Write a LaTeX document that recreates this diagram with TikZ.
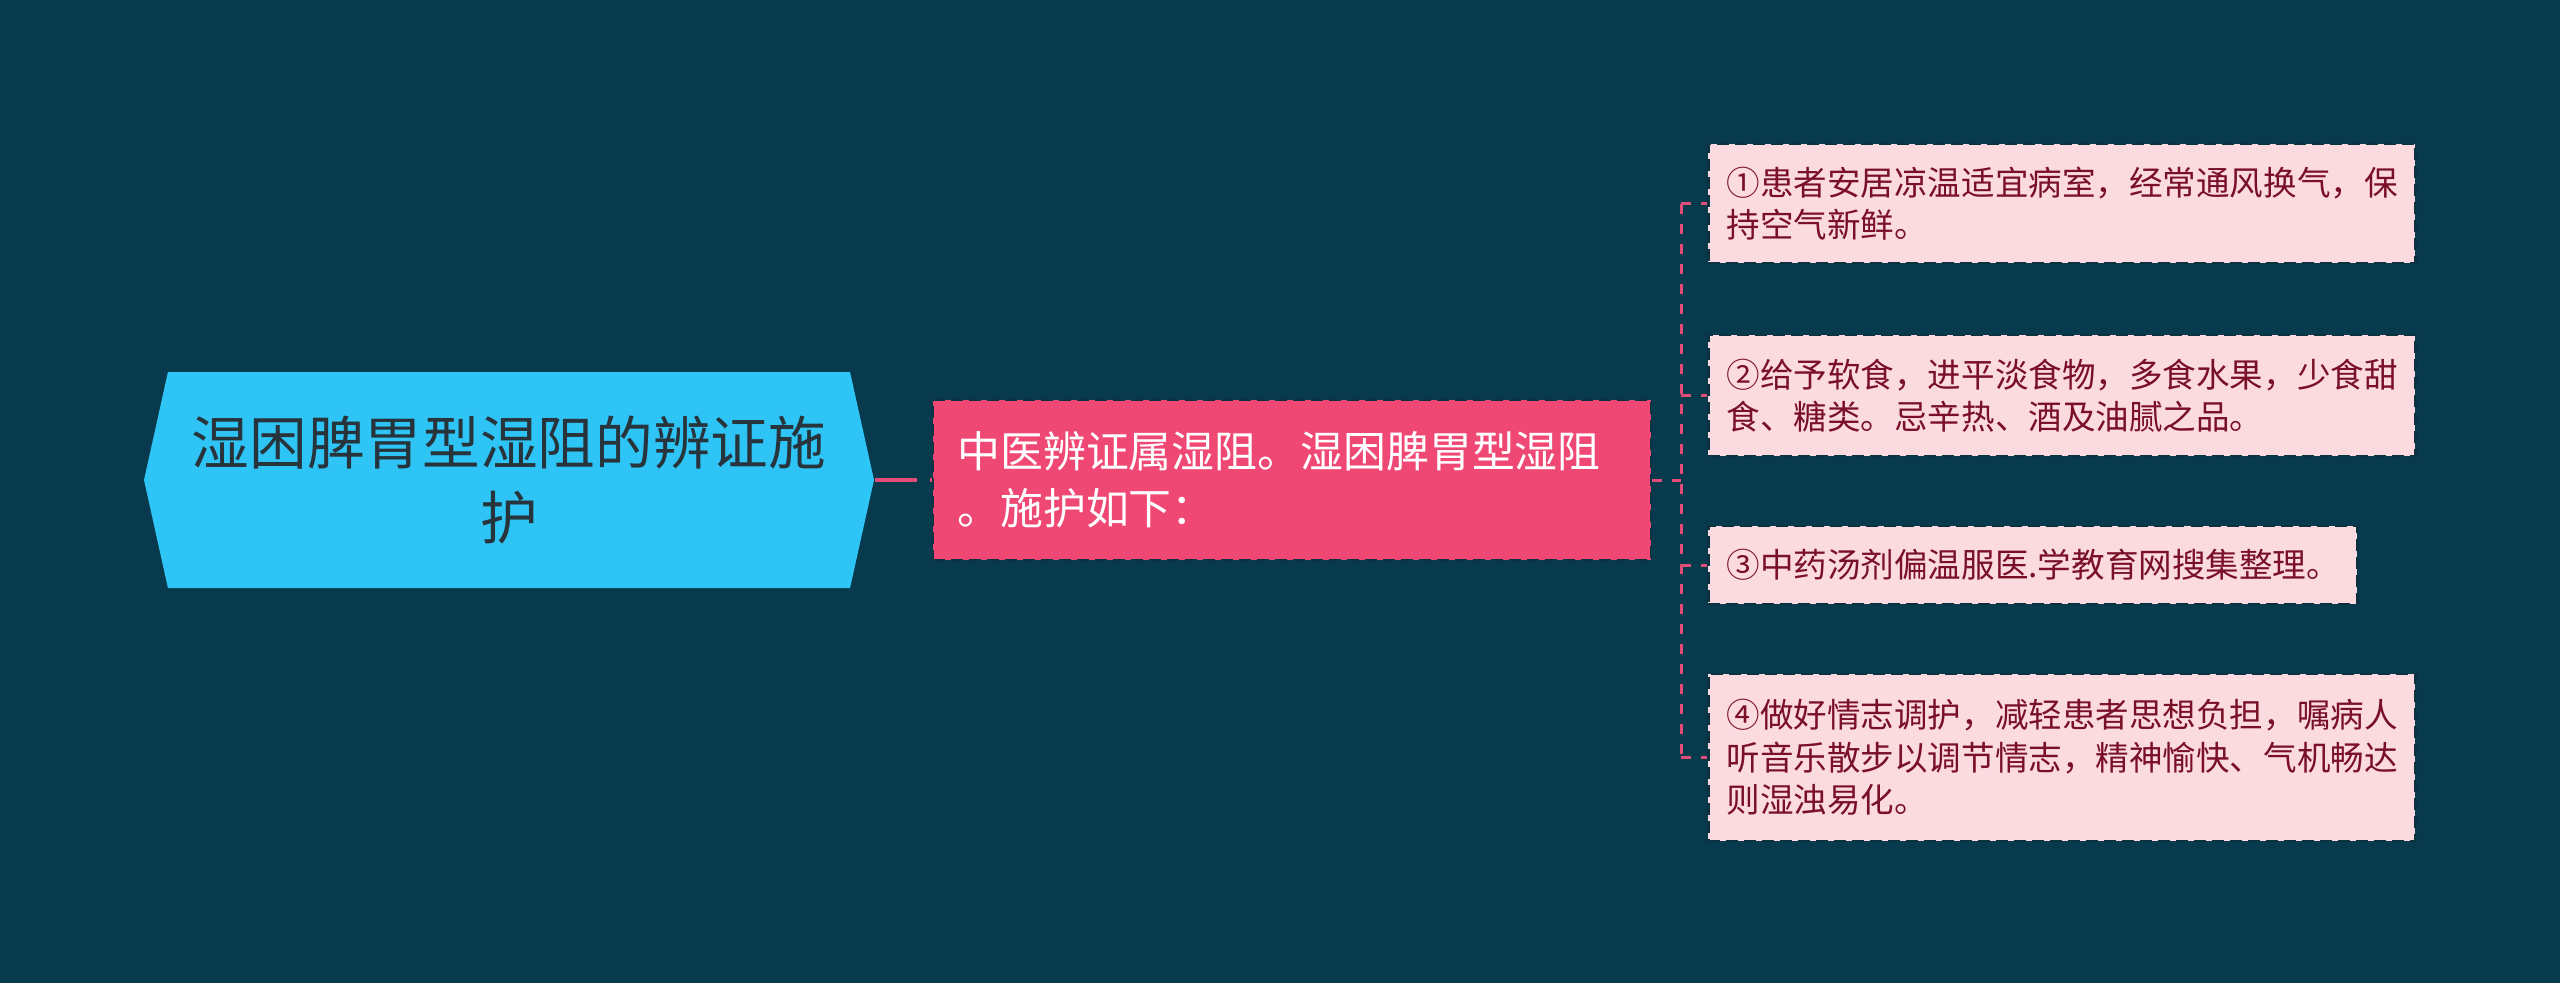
\documentclass[tikz,border=0pt]{standalone}
\usepackage{fontspec}
\newfontfamily\cjk{Noto Sans CJK SC}
\usetikzlibrary{positioning,calc,shapes.symbols}
\definecolor{bgteal}{RGB}{7,58,77}
\definecolor{rootcyan}{RGB}{46,197,246}
\definecolor{roottext}{RGB}{40,52,60}
\definecolor{topicpink}{RGB}{240,72,116}
\definecolor{leafpink}{RGB}{251,218,224}
\definecolor{leaftext}{RGB}{122,16,40}
\definecolor{linkpink}{RGB}{226,76,118}
\definecolor{edgedark}{RGB}{12,50,66}
\tikzset{
  % Node styles
  root node/.style={signal, signal to=west and east, signal pointer angle=155,
    fill=rootcyan, text=roottext, minimum width=73mm, minimum height=21.6mm,
    inner sep=0pt, align=center, font=\cjk\fontsize{16.4}{21.6}\selectfont},
  topic node/.style={rectangle, fill=topicpink, draw=edgedark, line width=0.25mm,
    dash pattern=on 1.2mm off 0.6mm, text=white, text width=66.9mm,
    inner xsep=2.45mm, minimum height=16mm, align=left,
    font=\cjk\fontsize{12.2}{16.2}\selectfont},
  leaf node/.style={rectangle, fill=leafpink, draw=edgedark, line width=0.25mm,
    dash pattern=on 1.2mm off 0.6mm, text=leaftext, text width=67.1mm,
    inner xsep=1.8mm, inner ysep=2mm, align=left,
    font=\cjk\fontsize{9.55}{12.1}\selectfont},
  % Connectors
  link line/.style={draw=linkpink, line width=0.4mm, dash pattern=on 4.2mm off 1.3mm},
  branch line/.style={draw=linkpink, line width=0.3mm, dash pattern=on 1mm off 1mm},
}

\begin{document}
\begin{tikzpicture}
% Canvas
\fill[bgteal] (0,0) rectangle (256mm,-98.3mm);
\useasboundingbox (0,0) rectangle (256mm,-98.3mm);

% Root and topic
\node[root node] (root) at (50.9mm,-48mm) {湿困脾胃型湿阻的辨证施\\护};
\node[topic node, right=5.7mm of root] (topic) {中医辨证属湿阻。湿困脾胃型湿阻\\。施护如下：};

% Branch hub
\coordinate[right=2.9mm of topic] (hub);

% Leaves
\node[leaf node, anchor=west, minimum height=11.9mm] (care1) at ([xshift=2.6mm, yshift=27.65mm] hub)
  {①患者安居凉温适宜病室，经常通风换气，保\\持空气新鲜。};
\node[leaf node, anchor=west, minimum height=12.1mm] (care2) at ([xshift=2.6mm, yshift=8.45mm] hub)
  {②给予软食，进平淡食物，多食水果，少食甜\\食、糖类。忌辛热、酒及油腻之品。};
\node[leaf node, anchor=west, text width=61.3mm, minimum height=7.8mm] (care3) at ([xshift=2.6mm, yshift=-8.5mm] hub)
  {③中药汤剂偏温服医.学教育网搜集整理。};
\node[leaf node, anchor=west, minimum height=16.7mm] (care4) at ([xshift=2.6mm, yshift=-27.75mm] hub)
  {④做好情志调护，减轻患者思想负担，嘱病人\\听音乐散步以调节情志，精神愉快、气机畅达\\则湿浊易化。};

% Connectors
\draw[link line] (root.east) -- (topic.west);
\draw[branch line] (topic.east) -- (hub);
\draw[branch line] (hub |- care1.west) -- (hub |- care4.west);
\foreach \leaf in {care1,care2,care3,care4}
  \draw[branch line] (hub |- \leaf.west) -- (\leaf.west);
\end{tikzpicture}
\end{document}
